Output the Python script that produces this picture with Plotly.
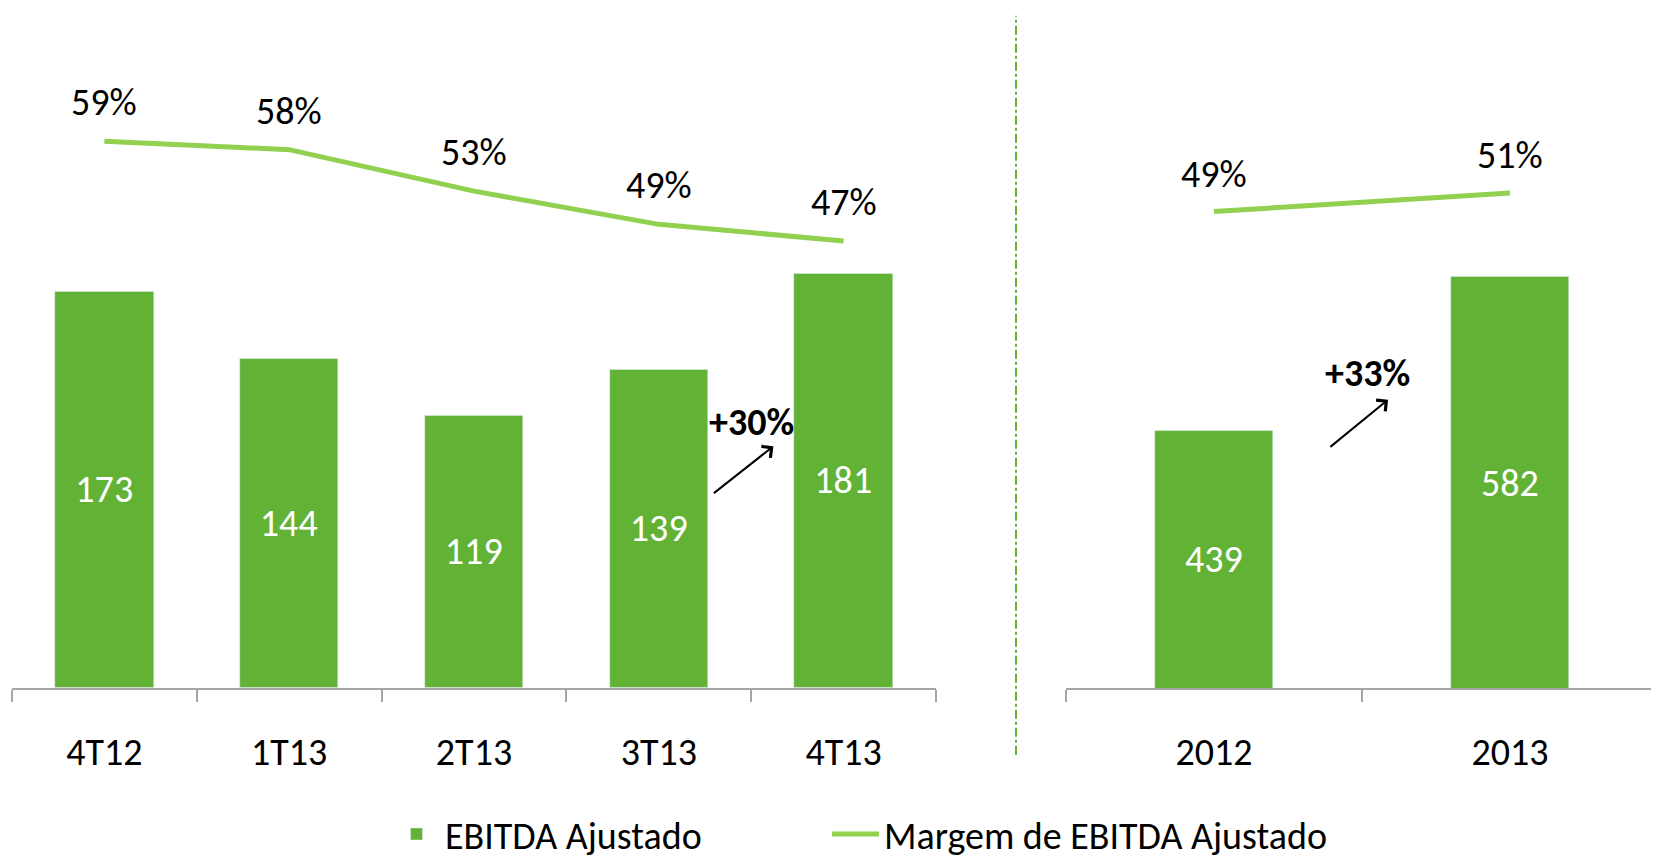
import plotly.graph_objects as go

# ---------------- data ----------------
quarters = ["4T12", "1T13", "2T13", "3T13", "4T13"]
ebitda_q = [173, 144, 119, 139, 181]
margin_q = [59, 58, 53, 49, 47]

years = ["2012", "2013"]
ebitda_y = [439, 582]
margin_y = [49, 51]

growth_q = "+30%"
growth_y = "+33%"

bar_name = "EBITDA Ajustado"
line_name = "Margem de EBITDA Ajustado"

# ---------------- style ----------------
W, H = 1659, 858
FONT = "Calibri, Carlito, Lato, sans-serif"
FS = 38
BAR_C = "#62b236"
LINE_C = "#92d050"
AXIS_C = "#a6a6a6"
Y3_MIN = 200
XOFF = 8  # page offset of the plot div

def px_x(p):
    return (p - XOFF) / W

def px_y(p):
    return 1 - p / H

y_dom = [px_y(692), px_y(20)]

fig = go.Figure()

fig.add_trace(go.Bar(
    x=quarters, y=ebitda_q, name=bar_name, marker_color=BAR_C, width=0.533,
    text=[str(v) for v in ebitda_q], textposition="inside", insidetextanchor="middle",
    textfont=dict(color="white", size=FS, family=FONT),
    xaxis="x", yaxis="y", legend="legend",
))
fig.add_trace(go.Scatter(
    x=quarters, y=margin_q, name=line_name, mode="lines",
    line=dict(color=LINE_C, width=5), xaxis="x", yaxis="y2", legend="legend2",
))
fig.add_trace(go.Bar(
    x=years, y=ebitda_y, name=bar_name, marker_color=BAR_C, width=0.40,
    xaxis="x2", yaxis="y3", showlegend=False,
))
fig.add_trace(go.Scatter(
    x=years, y=margin_y, name=line_name, mode="lines",
    line=dict(color=LINE_C, width=5), xaxis="x2", yaxis="y4", showlegend=False,
))

annotations = []
for i, v in enumerate(margin_q):
    annotations.append(dict(x=i, y=v, xref="x", yref="y2", text=f"{v}%", showarrow=False,
                            yshift=39, font=dict(size=FS, color="black", family=FONT)))
for i, v in enumerate(margin_y):
    annotations.append(dict(x=i, y=v, xref="x2", yref="y4", text=f"{v}%", showarrow=False,
                            yshift=38, font=dict(size=FS, color="black", family=FONT)))
# value labels centred in the visible part of the annual bars
for i, v in enumerate(ebitda_y):
    annotations.append(dict(x=i, y=(Y3_MIN + v) / 2, xref="x2", yref="y3", text=str(v),
                            showarrow=False, font=dict(size=FS, color="white", family=FONT)))

# growth arrows
annotations.append(dict(x=3.50, y=116, xref="x", yref="y", text=f"<b>{growth_q}</b>", showarrow=False,
                        font=dict(size=FS, color="black", family=FONT)))
annotations.append(dict(x=3.62, y=105.6, ax=3.29, ay=84.6, xref="x", yref="y", axref="x", ayref="y",
                        text="", showarrow=True, arrowhead=4, arrowsize=1.4, arrowwidth=2,
                        arrowcolor="black"))
annotations.append(dict(x=0.517, y=493, xref="x2", yref="y3", text=f"<b>{growth_y}</b>", showarrow=False,
                        font=dict(size=FS, color="black", family=FONT)))
annotations.append(dict(x=0.588, y=468, ax=0.388, ay=423, xref="x2", yref="y3", axref="x2", ayref="y3",
                        text="", showarrow=True, arrowhead=4, arrowsize=1.4, arrowwidth=2,
                        arrowcolor="black"))

shapes = []
# faint top gradient
for k in range(1, 26):
    shapes.append(dict(type="rect", xref="paper", yref="paper", x0=0, x1=1,
                       y0=1 - k * 0.012, y1=1, fillcolor="rgba(0,0,0,0.0018)",
                       line=dict(width=0), layer="below"))
# divider
shapes.append(dict(type="line", xref="paper", yref="paper", x0=px_x(1016), x1=px_x(1016),
                   y0=px_y(760), y1=px_y(8), line=dict(color=BAR_C, width=2, dash="dashdot")))

xaxis_common = dict(type="category", showline=True, linecolor=AXIS_C, linewidth=1.5,
                    ticks="outside", tickson="boundaries", ticklen=12, tickcolor=AXIS_C,
                    tickwidth=1.5, showgrid=False, zeroline=False,
                    tickfont=dict(size=FS, color="black", family=FONT), ticklabelstandoff=30)

legend_common = dict(orientation="h", xanchor="left", y=px_y(841), yanchor="middle",
                     font=dict(size=FS, family=FONT, color="black"), bgcolor="rgba(0,0,0,0)",
                     itemwidth=47)

fig.update_layout(
    width=W, height=H, margin=dict(l=0, r=0, t=0, b=0),
    paper_bgcolor="white", plot_bgcolor="rgba(0,0,0,0)",
    font=dict(family=FONT, size=FS, color="black"),
    bargap=0,
    xaxis=dict(domain=[px_x(12), px_x(936)], range=[-0.5, 4.5], anchor="y", **xaxis_common),
    yaxis=dict(domain=y_dom, range=[0, 288.5], visible=False, anchor="x"),
    yaxis2=dict(domain=y_dom, range=[-6.85, 72.7], visible=False, overlaying="y", anchor="x"),
    xaxis2=dict(domain=[px_x(1066), px_x(1658)], range=[-0.5, 1.5], anchor="y3", **xaxis_common),
    yaxis3=dict(domain=y_dom, range=[Y3_MIN, 814], visible=False, anchor="x2"),
    yaxis4=dict(domain=y_dom, range=[-1.91, 68.66], visible=False, overlaying="y3", anchor="x2"),
    legend=dict(x=(380 - 0) / W, **legend_common),
    legend2=dict(x=(819 - 0) / W, **legend_common),
    annotations=annotations, shapes=shapes,
)

fig.write_html("out.html")
